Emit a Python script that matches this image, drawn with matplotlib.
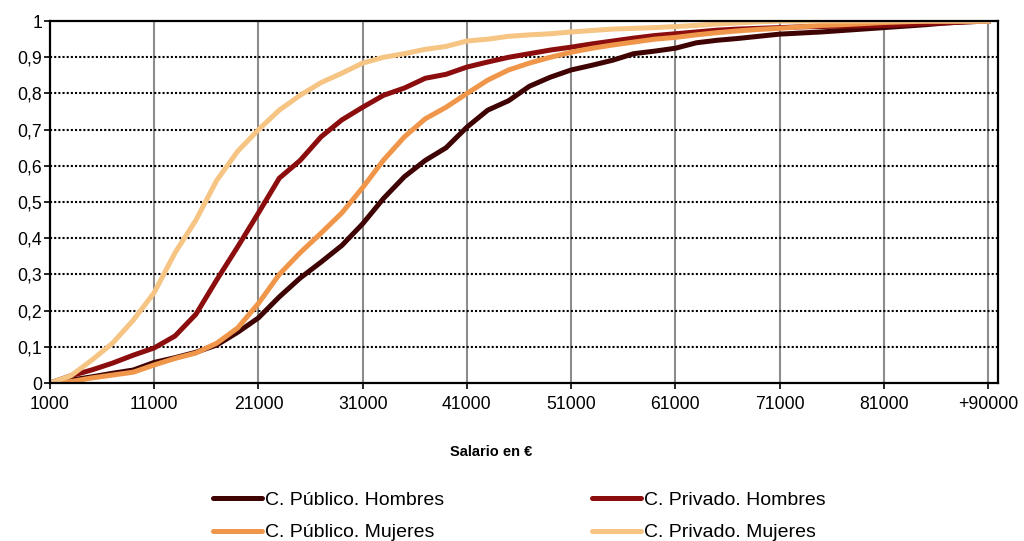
import matplotlib
matplotlib.use("Agg")
import matplotlib.pyplot as plt

plt.rcParams['font.family'] = ['Liberation Sans', 'DejaVu Sans']

salario = [1000, 3000, 5000, 7000, 9000, 11000, 13000, 15000, 17000, 19000,
           21000, 23000, 25000, 27000, 29000, 31000, 33000, 35000, 37000, 39000,
           41000, 43000, 45000, 47000, 49000, 51000, 53000, 55000, 57000, 59000,
           61000, 63000, 65000, 67000, 69000, 71000, 73000, 75000, 77000, 79000,
           81000, 83000, 85000, 87000, 89000, 91000]

publico_hombres = [0, 0.008, 0.017, 0.027, 0.036, 0.057, 0.07, 0.085, 0.105, 0.14,
                   0.18, 0.238, 0.29, 0.334, 0.38, 0.44, 0.51, 0.57, 0.615, 0.65,
                   0.707, 0.754, 0.78, 0.82, 0.845, 0.865, 0.878, 0.892, 0.91, 0.917,
                   0.925, 0.94, 0.947, 0.952, 0.958, 0.964, 0.967, 0.97, 0.974, 0.978,
                   0.982, 0.986, 0.99, 0.995, 0.998, 1.0]

privado_hombres = [0, 0.02, 0.036, 0.055, 0.077, 0.097, 0.13, 0.19, 0.285, 0.376,
                   0.47, 0.566, 0.615, 0.68, 0.727, 0.762, 0.795, 0.815, 0.842, 0.853,
                   0.873, 0.887, 0.9, 0.91, 0.92, 0.928, 0.937, 0.945, 0.953, 0.96,
                   0.965, 0.97, 0.975, 0.978, 0.98, 0.982, 0.984, 0.985, 0.986, 0.987,
                   0.988, 0.99, 0.993, 0.995, 0.998, 1.0]

publico_mujeres = [0, 0.004, 0.014, 0.022, 0.03, 0.05, 0.068, 0.083, 0.11, 0.152,
                   0.22, 0.3, 0.36, 0.414, 0.47, 0.54, 0.616, 0.68, 0.73, 0.762,
                   0.8, 0.837, 0.865, 0.884, 0.9, 0.914, 0.925, 0.934, 0.942, 0.95,
                   0.955, 0.962, 0.968, 0.973, 0.977, 0.98, 0.984, 0.988, 0.99, 0.993,
                   0.996, 0.998, 1.0, 1.0, 1.0, 1.0]

privado_mujeres = [0, 0.02, 0.063, 0.11, 0.174, 0.25, 0.36, 0.45, 0.56, 0.64,
                   0.7, 0.754, 0.795, 0.83, 0.856, 0.884, 0.9, 0.91, 0.922, 0.93,
                   0.945, 0.95, 0.958, 0.962, 0.965, 0.97, 0.974, 0.978, 0.98, 0.982,
                   0.985, 0.988, 0.992, 0.995, 0.998, 1.0, 1.0, 1.0, 1.0, 1.0,
                   1.0, 1.0, 1.0, 1.0, 1.0, 1.0]

x_ticks = [1000, 11000, 21000, 31000, 41000, 51000, 61000, 71000, 81000, 91000]
x_labels = ['1000', '11000', '21000', '31000', '41000', '51000', '61000',
            '71000', '81000', '+90000']
y_ticks = [0, 0.1, 0.2, 0.3, 0.4, 0.5, 0.6, 0.7, 0.8, 0.9, 1]
y_labels = ['0', '0,1', '0,2', '0,3', '0,4', '0,5', '0,6', '0,7', '0,8', '0,9', '1']

fig = plt.figure(figsize=(10.24, 5.41), dpi=100)
ax = fig.add_axes([0.0488, 0.292, 0.9258, 0.669])

lw = 3.6
l1, = ax.plot(salario, publico_hombres, color='#3f0303', lw=lw, label='C. Público. Hombres')
l2, = ax.plot(salario, privado_hombres, color='#8b0d0d', lw=lw, label='C. Privado. Hombres')
l3, = ax.plot(salario, publico_mujeres, color='#f0964b', lw=lw, label='C. Público. Mujeres')
l4, = ax.plot(salario, privado_mujeres, color='#f6c483', lw=lw, label='C. Privado. Mujeres')

ax.set_xlim(1000, 91950)
ax.set_ylim(0, 1)
ax.set_xticks(x_ticks)
ax.set_xticklabels(x_labels, fontsize=12.7)
ax.set_yticks(y_ticks)
ax.set_yticklabels(y_labels, fontsize=12.7)
ax.tick_params(axis='both', direction='out', length=4, width=1.2, color='black')
ax.tick_params(axis='x', pad=5)
ax.tick_params(axis='y', pad=1.5)

# gridlines: gray verticals, dotted black horizontals
for xv in x_ticks[1:]:
    ax.axvline(xv, color='#8c8c8c', lw=1.5, zorder=0)
for yv in y_ticks[1:-1]:
    ax.axhline(yv, color='black', lw=1.5, ls=(0, (1, 1)), zorder=0)

for s in ax.spines.values():
    s.set_color('black')
    s.set_linewidth(1.6)

fig.text(0.48, 0.1645, 'Salario en €', fontsize=10.5, fontweight='bold',
         ha='center', va='center')

leg = fig.legend([l1, l3, l2, l4],
                 ['C. Público. Hombres', 'C. Público. Mujeres',
                  'C. Privado. Hombres', 'C. Privado. Mujeres'],
                 ncol=2, loc='upper left', bbox_to_anchor=(0.208, 0.0925),
                 frameon=False, fontsize=14, handlelength=2.52,
                 handletextpad=0.15, columnspacing=7.6, labelspacing=0.78,
                 borderpad=0, borderaxespad=0)
for h in leg.legend_handles:
    h.set_solid_capstyle('round')
    h.set_linewidth(3.6)

fig.savefig('out.png', dpi=100)
